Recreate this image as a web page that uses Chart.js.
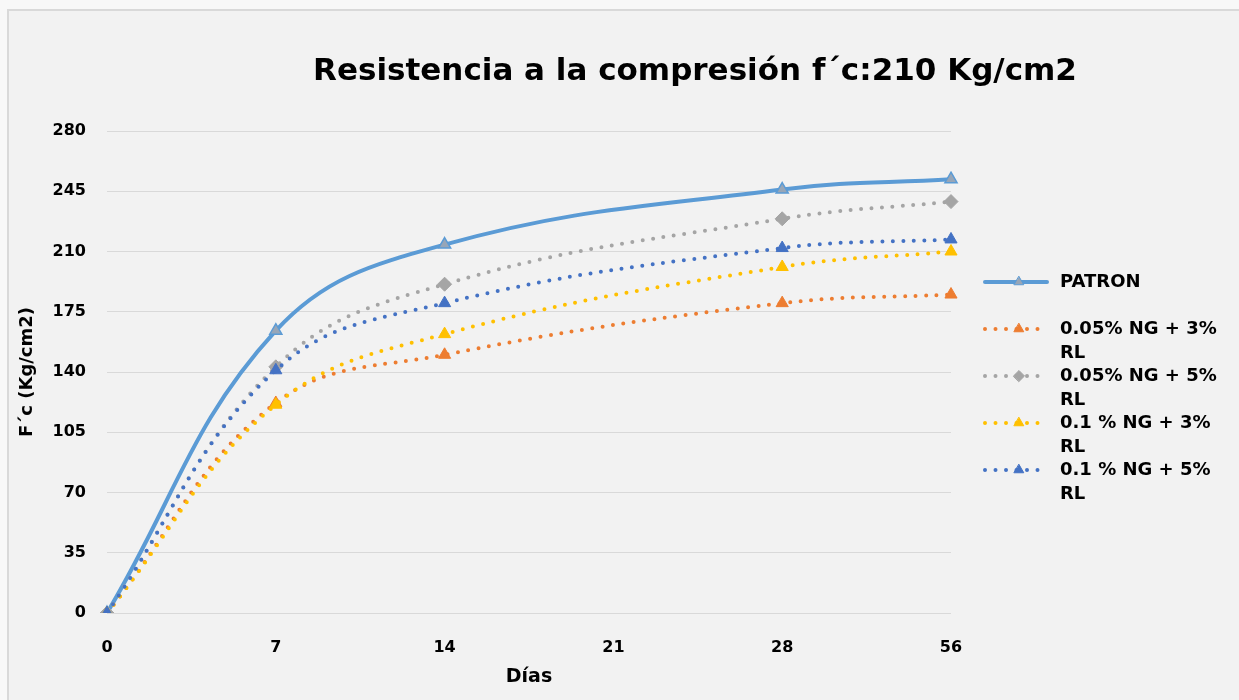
<!DOCTYPE html>
<html lang="es">
<head>
<meta charset="utf-8">
<title>Resistencia a la compresión f´c:210 Kg/cm2</title>
<script src="https://cdn.jsdelivr.net/npm/chart.js@4.4.1/dist/chart.umd.min.js"></script>
<style>
  html, body { margin: 0; padding: 0; background: #f8f8f8; }
  #wrap { position: relative; width: 1239px; height: 700px; }
</style>
</head>
<body>
<div id="wrap"><canvas id="chart" width="1239" height="700"></canvas></div>
<script>
const dias = ['0', '7', '14', '21', '28', '56'];
const patron = [0, 164, 214, null, 246, 252];
const ng005rl3 = [0, 122, 150, null, 180, 185];
const ng005rl5 = [0, 143, 191, null, 229, 239];
const ng01rl3 = [0, 121, 162, null, 201, 210];
const ng01rl5 = [0, 141, 180, null, 212, 217];
const nombres = ['PATRON', '0.05% NG + 3% RL', '0.05% NG + 5% RL', '0.1 % NG + 3% RL', '0.1 % NG + 5% RL'];
const yTicks = [0, 35, 70, 105, 140, 175, 210, 245, 280];
const titulo = 'Resistencia a la compresión f´c:210 Kg/cm2';

const FONT = '"DejaVu Sans", Lato, sans-serif';
const dotted = [0, 10.5];

function serie(label, data, color, style, extra) {
  return Object.assign({
    label: label,
    data: data,
    borderColor: color,
    backgroundColor: color,
    pointBackgroundColor: color,
    pointBorderColor: color,
    borderWidth: 4,
    borderDash: dotted,
    borderCapStyle: 'round',
    pointStyle: style,
    pointRadius: 7,
    pointBorderWidth: 1,
    tension: 0.4,
    spanGaps: true,
    fill: false,
  }, extra || {});
}

// fond + cadre
const fondo = {
  id: 'fondo',
  beforeDraw(chart) {
    const ctx = chart.ctx;
    ctx.save();
    ctx.fillStyle = '#f2f2f2';
    ctx.fillRect(8, 10, chart.width - 8, chart.height - 10);
    ctx.strokeStyle = '#d9d9d9';
    ctx.lineWidth = 2;
    ctx.beginPath();
    ctx.moveTo(8, chart.height);
    ctx.lineTo(8, 10);
    ctx.lineTo(chart.width, 10);
    ctx.stroke();
    ctx.restore();
  }
};

// titre décalé comme dans Excel, taille ajustée à la largeur voulue
const titre = {
  id: 'titre',
  afterDraw(chart) {
    const ctx = chart.ctx;
    ctx.save();
    ctx.font = 'bold 30px ' + FONT;
    const size = Math.min(34, 30 * 765 / ctx.measureText(titulo).width);
    ctx.font = 'bold ' + size.toFixed(1) + 'px ' + FONT;
    ctx.fillStyle = '#000';
    ctx.textAlign = 'center';
    ctx.textBaseline = 'middle';
    ctx.fillText(titulo, 695, 72);
    ctx.restore();
  }
};

// légende à droite, texte sur deux lignes
const leyenda = {
  id: 'leyenda',
  afterDraw(chart) {
    const ctx = chart.ctx;
    const maxW = 165;
    chart.data.datasets.forEach((ds, i) => {
      const y = 282 + i * 47;
      ctx.save();
      ctx.strokeStyle = ds.borderColor;
      ctx.lineWidth = ds.borderWidth;
      ctx.lineCap = 'round';
      ctx.setLineDash(ds.borderDash || []);
      ctx.beginPath();
      ctx.moveTo(985, y);
      ctx.lineTo(1047, y);
      ctx.stroke();
      ctx.setLineDash([]);
      ctx.fillStyle = ds.pointBackgroundColor;
      ctx.strokeStyle = ds.pointBorderColor;
      ctx.lineWidth = 1;
      Chart.helpers.drawPoint(ctx, { pointStyle: ds.pointStyle, rotation: 0, radius: 5.5, borderWidth: 1 }, 1019, y);

      ctx.font = 'bold 18px ' + FONT;
      ctx.fillStyle = '#000';
      ctx.textAlign = 'left';
      ctx.textBaseline = 'middle';
      const words = ds.label.split(' ');
      const lines = [];
      let cur = '';
      words.forEach(w => {
        const t = cur ? cur + ' ' + w : w;
        if (ctx.measureText(t).width > maxW && cur) { lines.push(cur); cur = w; }
        else cur = t;
      });
      lines.push(cur);
      lines.forEach((l, k) => ctx.fillText(l, 1060, y + k * 24));
      ctx.restore();
    });
  }
};

new Chart(document.getElementById('chart'), {
  type: 'line',
  data: {
    labels: dias,
    datasets: [
      serie(nombres[0], patron, '#5b9bd5', 'triangle', {
        borderDash: [], pointBackgroundColor: '#97a6b8', pointBorderColor: '#5b9bd5',
        pointBorderWidth: 1.5, pointRadius: 7, order: 5,
      }),
      serie(nombres[1], ng005rl3, '#ed7d31', 'triangle', { order: 4 }),
      serie(nombres[2], ng005rl5, '#a5a5a5', 'rectRot', { order: 3 }),
      serie(nombres[3], ng01rl3, '#ffc000', 'triangle', { order: 2 }),
      serie(nombres[4], ng01rl5, '#4472c4', 'triangle', { order: 1 }),
    ]
  },
  options: {
    responsive: false,
    animation: false,
    layout: { padding: { top: 131, right: 288, bottom: 0, left: 0 } },
    plugins: {
      legend: { display: false },
      title: { display: false },
      tooltip: { enabled: false },
    },
    scales: {
      x: {
        offset: false,
        grid: { display: false },
        border: { display: false },
        ticks: { color: '#000', font: { family: FONT, size: 16, weight: 'bold' }, padding: 17, maxRotation: 0 },
        title: { display: true, text: 'Días', color: '#000', font: { family: FONT, size: 19, weight: 'bold' }, padding: { top: 0, bottom: 12 } },
        afterFit: s => { s.height = 87; },
      },
      y: {
        min: yTicks[0],
        max: yTicks[yTicks.length - 1],
        afterBuildTicks: s => { s.ticks = yTicks.map(v => ({ value: v })); },
        grid: { color: '#d9d9d9', lineWidth: 1, drawTicks: false },
        border: { display: false },
        ticks: { color: '#000', font: { family: FONT, size: 16, weight: 'bold' }, padding: 21 },
        title: { display: true, text: 'F´c (Kg/cm2)', color: '#000', font: { family: FONT, size: 18, weight: 'bold' }, padding: { top: 17, bottom: 0 } },
        afterFit: s => { s.width = 107; },
      }
    }
  },
  plugins: [fondo, titre, leyenda]
});
</script>
</body>
</html>
